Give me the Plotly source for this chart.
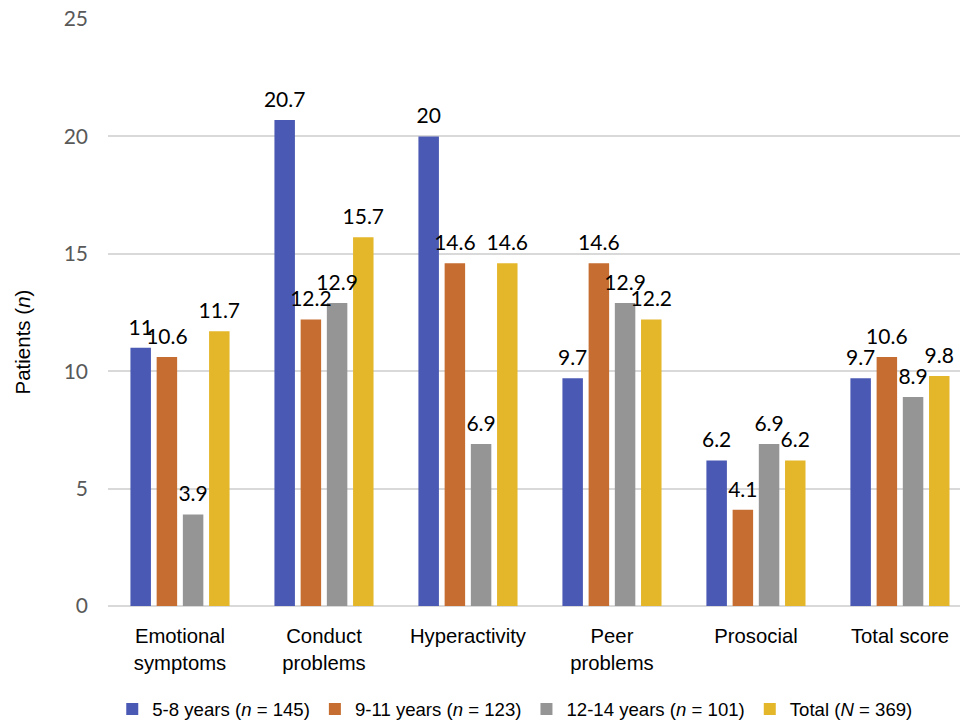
import plotly.graph_objects as go

categories = ["Emotional<br>symptoms", "Conduct<br>problems", "Hyperactivity",
              "Peer<br>problems", "Prosocial", "Total score"]

age_5_8 = [11, 20.7, 20, 9.7, 6.2, 9.7]
age_9_11 = [10.6, 12.2, 14.6, 14.6, 4.1, 10.6]
age_12_14 = [3.9, 12.9, 6.9, 12.9, 6.9, 8.9]
total = [11.7, 15.7, 14.6, 12.2, 6.2, 9.8]

series_names = ["5-8 years (<i>n</i> = 145)", "9-11 years (<i>n</i> = 123)",
                "12-14 years (<i>n</i> = 101)", "Total (<i>N</i> = 369)"]
series_values = [age_5_8, age_9_11, age_12_14, total]
series_colors = ["#4A59B4", "#C66D31", "#959595", "#E4B72B"]

y_ticks = [0, 5, 10, 15, 20, 25]

BAR_GAP = 0.272
label_font = dict(family="Lato", size=21, color="#000000")
sans = "Liberation Sans"

fig = go.Figure()
for name, vals, color in zip(series_names, series_values, series_colors):
    fig.add_trace(go.Bar(
        x=categories,
        y=vals,
        name=name,
        marker=dict(color=color, line=dict(width=0)),
        hoverinfo="skip",
    ))

# value labels, grouped the same way as the bars and lifted above each bar top
for name, vals in zip(series_names, series_values):
    fig.add_trace(go.Scatter(
        x=categories,
        y=vals,
        mode="markers+text",
        marker=dict(size=11, opacity=0),
        text=[f"{v:g}" for v in vals],
        textposition="top center",
        textfont=label_font,
        cliponaxis=False,
        showlegend=False,
        hoverinfo="skip",
    ))

fig.update_layout(
    width=960,
    height=721,
    margin=dict(l=108, r=0, t=19, b=115, pad=0, autoexpand=False),
    paper_bgcolor="white",
    plot_bgcolor="white",
    barmode="group",
    bargap=BAR_GAP,
    bargroupgap=0.218,
    scattermode="group",
    scattergap=BAR_GAP,
    showlegend=True,
    legend=dict(
        orientation="h",
        x=0.005, xanchor="left",
        y=-0.176, yanchor="middle",
        font=dict(family=sans, size=18.6, color="#000000"),
        itemwidth=30,
        traceorder="normal",
    ),
    annotations=[dict(
        text="Patients (<i>n</i>)",
        textangle=-90,
        xref="paper", yref="paper",
        x=-0.0998, y=0.4506,
        xanchor="center", yanchor="middle",
        showarrow=False,
        font=dict(family=sans, size=20.5, color="#000000"),
    )],
)

fig.update_xaxes(
    type="category",
    range=[-0.5, 5.417],
    automargin=False,
    showgrid=False,
    showline=False,
    zeroline=False,
    ticks="",
    tickfont=dict(family=sans, size=20.3, color="#000000"),
    ticklabelstandoff=16,
)

fig.update_yaxes(
    range=[0, 25],
    automargin=False,
    tickvals=y_ticks,
    showgrid=True,
    gridcolor="#D9D9D9",
    gridwidth=1.5,
    zeroline=True,
    zerolinecolor="#D9D9D9",
    zerolinewidth=1.5,
    showline=False,
    ticks="",
    tickfont=dict(family="Lato", size=21, color="#595959"),
    ticklabelstandoff=19,
)

fig.write_html("out.html")
